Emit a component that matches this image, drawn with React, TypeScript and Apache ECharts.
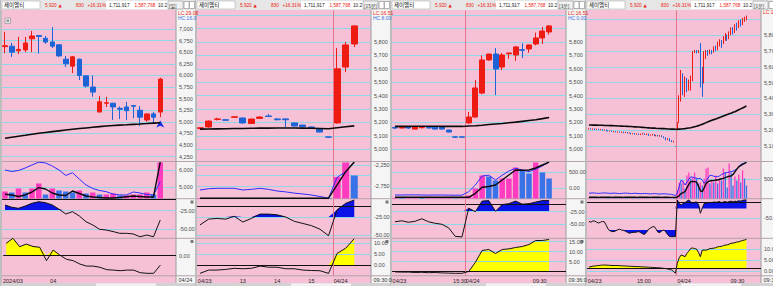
import React, { useEffect, useRef } from 'react';
import * as echarts from 'echarts';

// ================= DATA =================
// Panel 1 : daily  [open, close, low, high]
const p1Candles = [
  [6620, 6640, 6480, 6940], [6630, 6500, 6400, 6700], [6530, 6560, 6460, 6830], [6550, 6700, 6500, 6830],
  [6790, 6850, 6500, 6960], [6860, 6840, 6470, 6870], [6800, 6720, 6680, 6850], [6720, 6630, 6590, 7040],
  [6660, 6420, 6400, 6660], [6350, 6250, 6180, 6420], [6200, 6400, 6050, 6420], [6350, 6000, 5900, 6360],
  [5990, 5770, 5740, 5990], [5750, 5640, 5540, 6000], [5210, 5430, 5210, 5560], [5400, 5410, 5320, 5540],
  [5400, 5320, 5040, 5410], [5290, 5270, 5060, 5330], [5320, 5240, 5040, 5430], [5350, 5335, 5080, 5360],
  [5250, 5100, 4910, 5340], [5040, 5170, 5000, 5180], [5170, 5100, 4970, 5210], [5210, 5920, 5100, 5950],
];
const p1MA = [4644, 4666, 4688, 4709, 4731, 4752, 4770, 4788, 4805, 4822, 4839, 4854, 4868, 4882, 4896, 4910, 4919, 4928, 4936, 4945, 4953, 4962, 4972, 4981];
const p1Vol = [700, 600, 1000, 600, 1000, 1500, 400, 1000, 800, 700, 600, 800, 500, 600, 400, 400, 500, 300, 300, 400, 400, 600, 400, 3600];
const p1VolBlue = [6000, 5912, 5970, 6118, 6294, 6460, 6412, 6235, 6000, 5676, 5841, 5470, 5118, 4912, 4794, 4724, 4588, 4530, 4530, 4706, 4647, 4559, 4530, 5312];
const p1VolBlack = [4571, 4530, 4441, 4530, 4706, 4959, 4882, 4647, 4530, 4500, 4765, 4618, 4471, 4412, 4382, 4353, 4353, 4382, 4430, 4471, 4441, 4412, 4412, 6460];
const p1Ind1 = [-17.3, -20.4, -21.8, -18.7, -15, -12.9, -14.2, -17.3, -23, -29.4, -26.3, -32, -39.8, -44.2, -50, -51, -53, -55.4, -55.4, -56.3, -60, -57.7, -60, -37.5];
const p1Ind2 = [6.2, 8.7, 4.5, 5.8, 4.6, 4.2, -2.5, 2.8, 0.3, -1.8, -2.5, -4.2, -5.2, -5.2, -5.8, -7, -7.2, -7.5, -7.2, -7.2, -8.5, -8.8, -8.8, -4.7];
const p1PriceTicks = [4250, 4500, 4750, 5000, 5250, 5500, 5750, 6000, 6250, 6500, 6750, 7000];
const p1VolTicks = [5000, 6000];
const p1Ind1Ticks = [-50, -25];
const p1Ind2Ticks = [0];
const p1XLabels: [number, string][] = [[1.0, '2024/03'], [7, '04']];
const p1Signal = [23, 5030];

// Panel 2 : 15 min
const p2Candles = [
  [5155, 5160, 5150, 5165], [5166, 5210, 5160, 5215], [5222, 5226, 5215, 5235], [5220, 5216, 5212, 5224],
  [5238, 5242, 5236, 5248], [5233, 5196, 5190, 5236], [5192, 5225, 5188, 5228], [5230, 5240, 5228, 5248],
  [5248, 5244, 5240, 5262], [5226, 5220, 5215, 5230], [5226, 5220, 5165, 5230], [5196, 5173, 5170, 5198],
  [5180, 5168, 5164, 5182], [5166, 5160, 5156, 5168], [5150, 5128, 5125, 5152], [5092, 5090, 5086, 5094],
  [5196, 5600, 5190, 5755], [5613, 5778, 5575, 5800], [5785, 5920, 5762, 5925],
];
const p2MA = [5150, 5151, 5152, 5153, 5154, 5155, 5156, 5157, 5157, 5158, 5158, 5158, 5157, 5156, 5155, 5153, 5160, 5167, 5174];
const p2Vol = [50, 60, 40, 40, 50, 60, 50, 50, 40, 40, 50, 60, 40, 40, 60, 50, 2150, 3600, 2300];
const p2VolBlue = [-2845, -2815, -2805, -2805, -2805, -2845, -2830, -2805, -2830, -2870, -2890, -2920, -2940, -2964, -3000, -3040, -2543, -2410, -2180];
const p2VolBlack = [-3040, -3040, -3040, -3040, -3040, -3040, -3040, -3040, -3040, -3040, -3040, -3040, -3040, -3040, -3040, -3040, -2726, -2410, -2180];
const p2Ind1 = [-36, -28, -27, -28, -24, -32, -27, -21, -21, -22, -25, -31, -34, -37, -42, -51, -15, -6, -1.4];
const p2Ind2 = [-3.8, -2.3, -2.3, -2, -1.5, -1.7, -1.5, -0.5, -1, -1, -1.7, -1.7, -2.3, -2.5, -2.6, -3.8, 5.3, 7.6, 12];
const p2PriceTicks = [5000, 5100, 5200, 5300, 5400, 5500, 5600, 5700, 5800, 5900, 6000];
const p2PriceLabeled = [5000, 5100, 5200, 5300, 5400, 5500, 5600, 5700, 5800];
const p2VolTicks = [-2750, -2500, -2250];
const p2VolLabeled = [-2750, -2250];
const p2Ind1Ticks = [-50, -25];
const p2Ind2Ticks = [0, 5, 10];
const p2XLabels: [number, string][] = [[0.55, '04/23'], [5, '13'], [9, '14'], [13, '15'], [16.4, '04/24']];
const p2DayBreak = 15.5;

// Panel 3 : 3 min
const p3Candles = [
  [5162, 5158, 5150, 5166], [5158, 5164, 5155, 5168], [5164, 5158, 5152, 5166], [5150, 5166, 5148, 5168],
  [5160, 5163, 5155, 5168], [5162, 5158, 5155, 5165], [5166, 5150, 5148, 5168], [5166, 5150, 5145, 5168],
  [5143, 5128, 5125, 5145], [5092, 5090, 5088, 5094], [5092, 5090, 5088, 5094], [5196, 5240, 5190, 5278],
  [5240, 5457, 5235, 5516], [5419, 5666, 5410, 5700], [5666, 5710, 5660, 5712], [5710, 5598, 5404, 5755],
  [5613, 5703, 5590, 5718], [5712, 5718, 5675, 5720], [5703, 5763, 5660, 5770], [5742, 5738, 5680, 5790],
  [5748, 5778, 5720, 5780], [5785, 5830, 5775, 5870], [5830, 5882, 5785, 5912], [5875, 5920, 5855, 5925],
];
const p3MA = [5170, 5170, 5170, 5171, 5171, 5171, 5171, 5170, 5170, 5170, 5170, 5173, 5175, 5179, 5184, 5188, 5192, 5197, 5202, 5208, 5214, 5220, 5228, 5237];
const p3Vol = [60, 50, 60, 80, 50, 50, 60, 60, 90, 30, 30, 300, 1000, 2300, 2200, 1800, 2000, 2000, 3100, 2800, 2500, 3600, 2600, 2000];
const p3VolBlue = [-219, -219, -215, -215, -219, -222, -219, -219, -222, -225, -225, -115, 94, 375, 400, 250, 400, 530, 615, 560, 510, 590, 690, 810];
const p3VolBlack = [-290, -290, -290, -290, -290, -290, -290, -290, -290, -290, -290, -290, -166, 22, 47, 94, 250, 406, 562, 553, 562, 625, 719, 810];
const p3Ind1 = [-45, -43, -46, -44, -39, -45, -48, -50, -57, -74, -75, -18, -25, -4, -3, -24, -11, -9, -4, -10, -9, -6, -3, -3];
const p3Ind2 = [-0.2, -0.3, -0.3, -0.5, -0.4, -0.6, -0.5, -0.7, -0.8, -0.9, -0.9, 0, 4.6, 10.5, 11, 9, 11, 11.3, 12, 12.5, 13.5, 15.5, 15.5, 16];
const p3PriceTicks = [5000, 5100, 5200, 5300, 5400, 5500, 5600, 5700, 5800, 5900, 6000];
const p3PriceLabeled = [5000, 5100, 5200, 5300, 5400, 5500, 5600, 5700, 5800];
const p3VolTicks = [0, 500];
const p3Ind1Ticks = [-50, -25];
const p3Ind2Ticks = [5, 10, 15];
const p3XLabels: [number, string][] = [[0.67, '04/23'], [9.7, '15:30'], [11.6, '04/24'], [21.6, '09:30']];
const p3DayBreak = 10.5;

// Panel 4 : 1 min (04/23 then 04/24)
const p4CandlesDay1 = [
  [5208, 5210, 5204, 5212], [5210, 5206, 5203, 5212], [5206, 5208, 5202, 5210], [5208, 5204, 5200, 5210], [5204, 5206, 5201, 5208],
  [5206, 5203, 5200, 5208], [5203, 5205, 5199, 5207], [5205, 5200, 5197, 5206], [5200, 5202, 5196, 5204],
  [5202, 5196, 5193, 5203], [5196, 5194, 5190, 5198], [5194, 5196, 5191, 5198], [5196, 5190, 5188, 5197], [5190, 5192, 5187, 5194],
  [5192, 5188, 5185, 5193], [5188, 5190, 5184, 5192], [5190, 5186, 5183, 5191], [5186, 5188, 5182, 5190],
  [5188, 5184, 5180, 5190], [5184, 5186, 5181, 5188], [5186, 5180, 5178, 5187], [5180, 5182, 5177, 5184], [5182, 5176, 5173, 5183],
  [5176, 5180, 5174, 5181], [5180, 5174, 5171, 5181], [5174, 5177, 5170, 5178], [5177, 5172, 5169, 5178], [5172, 5175, 5168, 5177],
  [5175, 5178, 5172, 5182], [5178, 5172, 5170, 5179], [5172, 5176, 5168, 5178], [5176, 5166, 5163, 5177], [5166, 5170, 5164, 5172],
  [5170, 5172, 5166, 5175], [5172, 5165, 5162, 5173], [5165, 5168, 5160, 5170], [5168, 5164, 5160, 5169],
  [5164, 5166, 5158, 5168], [5166, 5158, 5155, 5167], [5158, 5152, 5148, 5160], [5152, 5140, 5135, 5155], [5140, 5146, 5136, 5148],
  [5146, 5132, 5128, 5148], [5132, 5128, 5124, 5136], [5128, 5130, 5122, 5132], [5096, 5095, 5093, 5097],
];
const p4CandlesDay2 = [
  [5200, 5245, 5198, 5250], [5250, 5390, 5245, 5420], [5390, 5540, 5380, 5580], [5540, 5450, 5420, 5560], [5450, 5520, 5410, 5540],
  [5520, 5460, 5440, 5530], [5460, 5500, 5450, 5520], [5455, 5535, 5450, 5545], [5515, 5695, 5510, 5700], [5695, 5705, 5688, 5707],
  [5705, 5690, 5685, 5707], [5690, 5702, 5688, 5706], [5700, 5560, 5470, 5750], [5560, 5500, 5410, 5600], [5500, 5660, 5495, 5700],
  [5660, 5700, 5650, 5707], [5700, 5690, 5670, 5707], [5690, 5705, 5680, 5710], [5705, 5695, 5680, 5707], [5695, 5720, 5690, 5730],
  [5720, 5712, 5700, 5735], [5712, 5745, 5705, 5760], [5745, 5765, 5730, 5775], [5765, 5750, 5720, 5770], [5750, 5780, 5745, 5795],
  [5780, 5800, 5765, 5815], [5800, 5785, 5765, 5805], [5785, 5815, 5775, 5825], [5815, 5840, 5800, 5850], [5840, 5825, 5805, 5852],
  [5825, 5860, 5815, 5870], [5860, 5850, 5830, 5880], [5850, 5880, 5845, 5895], [5880, 5872, 5855, 5900], [5872, 5900, 5865, 5910],
  [5900, 5912, 5885, 5918], [5905, 5920, 5895, 5925],
];
const p4MA = [
  5232, 5232, 5231, 5231, 5231, 5230, 5230, 5230, 5229, 5229, 5229, 5228, 5228, 5227, 5227, 5226,
  5226, 5225, 5224, 5224, 5223, 5222, 5222, 5221, 5220, 5219, 5219, 5218, 5217, 5216, 5215, 5214, 5213,
  5212, 5212, 5211, 5210, 5210, 5209, 5209, 5208, 5207, 5207, 5206, 5206, 5205,
  5205, 5206, 5207, 5208, 5209, 5211, 5213, 5215, 5218, 5221, 5224, 5228, 5232,
  5237, 5242, 5247, 5252, 5257, 5262, 5266, 5270, 5275,
  5280, 5284, 5289, 5294, 5298, 5303, 5307, 5312, 5316,
  5322, 5328, 5334, 5340, 5346, 5353,
];
const p4Vol = [
  40, 50, 30, 60, 40, 50, 30, 40, 60, 50, 40, 30, 50, 60, 40, 30, 50, 40, 60, 50, 40, 30, 50, 40, 60, 50, 30, 40, 50, 60,
  40, 50, 30, 40, 60, 50, 40, 50, 60, 80, 70, 90, 60, 70, 50, 120,
  800, 1600, 1500, 1800, 1000, 2300, 2600, 2000, 2100, 2600, 2000, 1500, 1600, 1300, 2000, 3000, 3100, 1500, 1800, 1600,
  2300, 1500, 2000, 1800, 3000, 2600, 1100, 3500, 2600, 1300, 2200, 1800, 2400, 1600, 2800, 2000, 1300,
];
const p4VolBlue = [
  90, 95, 100, 95, 90, 85, 90, 95, 100, 95, 90, 85, 90, 95, 90, 85, 80, 85, 90, 95, 90, 85, 80, 85, 90, 85, 80, 75, 80, 85,
  80, 75, 70, 75, 80, 75, 70, 65, 70, 75, 70, 65, 60, 55, 40, 20,
  100, 300, 480, 420, 332, 420, 500, 576, 560, 545, 530, 520, 529, 470, 382, 450, 540, 620, 610, 590,
  580, 576, 600, 640, 670, 690, 700, 715, 723, 740, 770, 800, 850, 940, 960, 980, 995,
];
const p4VolBlack = [
  -28, -30, -30, -29, -30, -31, -30, -30, -29, -30, -30, -30, -31, -30, -29, -30, -30, -30, -31, -30, -30, -29, -30, -30, -30, -31, -30, -30, -29, -30,
  -30, -30, -31, -30, -30, -29, -30, -30, -31, -30, -30, -30, -31, -32, -33, -34,
  -20, 20, 80, 110, 135, 250, 350, 430, 440, 430, 420, 300, 160, 135, 250, 380, 430, 450, 470, 460,
  480, 480, 500, 515, 529, 550, 570, 590, 597, 640, 720, 800, 870, 900, 940, 970, 995,
];
const p4Ind1 = [
  -58, -60, -57, -57, -60, -62, -60, -58, -59, -68, -78, -82, -84, -84, -82, -79, -78, -80, -81, -83,
  -86, -88, -87, -86, -86, -85, -84, -87, -90, -91, -85, -78, -75, -72, -71, -78, -86, -86, -82, -80,
  -85, -92, -97, -97, -97, -97,
  -3, -12, -16, -12, -10, -6, -3, -8, -11, -9, -8, -14, -37, -24, -12, -11, -10, -9, -10, -8,
  -9, -8, -7, -10, -8, -7, -9, -7, -6, -8, -6, -7, -5, -6, -4, -3, -3,
];
const p4Ind2 = [
  1.8, 2.0, 2.2, 2.3, 2.4, 2.5, 2.6, 2.7, 2.7, 2.7, 2.6, 2.6, 2.5, 2.5, 2.5, 2.5, 2.4, 2.4, 2.3, 2.3,
  2.2, 2.2, 2.1, 2.1, 2.0, 2.0, 2.0, 1.9, 1.9, 1.8, 1.8, 1.7, 1.7, 1.6, 1.6, 1.5, 1.5, 1.4, 1.3, 1.2,
  1.1, 0.9, 0.7, 0.5, -0.2, -1.0,
  3.5, 6, 7.3, 7, 6.5, 8, 9, 10.3, 10.5, 10.2, 10, 8.5, 6.5, 9.5, 9.5, 9.5, 9.8, 10.2, 10.3, 10.4,
  10.6, 11, 11.1, 11.2, 11.6, 11.8, 11.9, 12.2, 12.6, 12.7, 12.9, 13.2, 13.3, 13.6, 13.9, 14.1, 14.4,
];
const p4PriceTicks = [5100, 5200, 5300, 5400, 5500, 5600, 5700, 5800, 5900];
const p4PriceLabeled = [5100, 5200, 5300, 5400, 5500, 5600, 5700, 5800];
const p4VolTicks = [500];
const p4Ind1Ticks = [-50];
const p4Ind2Ticks = [0, 5, 10];
const p4XLabels: [number, string][] = [[2.9, '04/23'], [28.6, '15:00'], [49.5, '04/24'], [77.3, '09:30']];
const p4DayBreak = 45.5;

const lastPrice = 5920;

// ================= STYLE =================
const FONT = 'Liberation Sans';
const KR = 'Noto Sans CJK KR';
const PINK = '#f6c1d7';
const CYAN = '#8fd6e6';
const RED = '#ee1b12';
const BLUE = '#1e63d6';
const VPINK = '#ff3cbf';
const VBLUE = '#3a73e8';
const FILLB = '#0a12e8';
const YEL = '#ffff00';
const LBLUE = '#2b2bff';
const DAY = '#e2758a';
const AXT = '#4a4a4a';

const fmtInt = (v: number) => Math.round(v).toLocaleString('en-US');
const fmt2 = (v: number) => v.toFixed(2);

const PANELS = [
  {
    L: 0, slot: 6.75, off: 3, candleW: 5, volW: 5.5, unit: '일',
    candles: p1Candles, ma: p1MA, vol: p1Vol, volBlue: p1VolBlue, volBlack: p1VolBlack, ind1: p1Ind1, ind2: p1Ind2,
    priceRange: [4155, 7399], priceTicks: p1PriceTicks, priceLabeled: p1PriceTicks,
    volRange: [4323, 6470], volTicks: p1VolTicks, volLabeled: p1VolTicks, volFmt: fmtInt,
    i1Range: [-61.7, -9.27], i1Ticks: p1Ind1Ticks, lower: null,
    i2Range: [-9.9, 8.6], i2Ticks: p1Ind2Ticks, i2Base: 0,
    dayBreak: null, xLabels: p1XLabels, pct: null, lc: 'LC:29.08', hc: 'HC:16.0', stripDate: '04/24', signal: p1Signal, icon: true,
  },
  {
    L: 195, slot: 8.57, off: 3, candleW: 6.5, volW: 7, unit: '15분',
    candles: p2Candles, ma: p2MA, vol: p2Vol, volBlue: p2VolBlue, volBlack: p2VolBlack, ind1: p2Ind1, ind2: p2Ind2,
    priceRange: [4912, 6035], priceTicks: p2PriceTicks, priceLabeled: p2PriceLabeled,
    volRange: [-3047.6, -2178.6], volTicks: p2VolTicks, volLabeled: p2VolLabeled, volFmt: fmtInt,
    i1Range: [-54.2, 0], i1Ticks: p2Ind1Ticks, lower: null,
    i2Range: [-4.77, 12.05], i2Ticks: p2Ind2Ticks, i2Base: 0,
    dayBreak: p2DayBreak, xLabels: p2XLabels, pct: '2.42%', lc: 'LC:16.51', hc: 'HC:8.00', stripDate: '09:30:0', signal: null, icon: false,
  },
  {
    L: 390, slot: 6.7, off: 3, candleW: 5.5, volW: 5.5, unit: '3분',
    candles: p3Candles, ma: p3MA, vol: p3Vol, volBlue: p3VolBlue, volBlack: p3VolBlack, ind1: p3Ind1, ind2: p3Ind2,
    priceRange: [4912, 6035], priceTicks: p3PriceTicks, priceLabeled: p3PriceLabeled,
    volRange: [-328, 812.5], volTicks: p3VolTicks, volLabeled: p3VolTicks, volFmt: fmt2,
    i1Range: [-77.2, 0.2], i1Ticks: p3Ind1Ticks, lower: null,
    i2Range: [-2, 16.5], i2Ticks: p3Ind2Ticks, i2Base: 0,
    dayBreak: p3DayBreak, xLabels: p3XLabels, pct: '0.51%', lc: 'LC:16.51', hc: 'HC:0.00', stripDate: '09:36:0', signal: null, icon: false,
  },
  {
    L: 585, slot: 1.92, off: 2, candleW: 1, volW: 1.3, unit: '1분',
    candles: [...p4CandlesDay1, ...p4CandlesDay2], ma: p4MA, vol: p4Vol, volBlue: p4VolBlue, volBlack: p4VolBlack, ind1: p4Ind1, ind2: p4Ind2,
    priceRange: [5004, 5957], priceTicks: p4PriceTicks, priceLabeled: p4PriceLabeled,
    volRange: [-65, 1009], volTicks: p4VolTicks, volLabeled: p4VolTicks, volFmt: fmt2,
    i1Range: [-100.5, -0.5], i1Ticks: p4Ind1Ticks, lower: -80,
    i2Range: [-2.05, 14.8], i2Ticks: p4Ind2Ticks, i2Base: 1.2,
    dayBreak: p4DayBreak, xLabels: p4XLabels, pct: '0.51%', lc: 'LC:16.51', hc: null, stripDate: '09:36:00', signal: null, icon: false,
  },
];

// ================= BUILD =================
const rect = (x: number, y: number, w: number, h: number, fill: string, z = 0, stroke?: string) => ({
  type: 'rect', silent: true, z, shape: { x, y, width: w, height: h },
  style: stroke ? { fill, stroke, lineWidth: 0.6 } : { fill },
});
const hline = (x1: number, x2: number, y: number, color: string, z = 0.5) => ({
  type: 'line', silent: true, z, shape: { x1, y1: y, x2, y2: y }, style: { stroke: color, lineWidth: 1 },
});
const T = (x: number, y: number, text: string, fill: string, size = 4.7, family = FONT, align = 'left') => ({
  type: 'text', x, y, z: 50, silent: true,
  style: { text, fill, fontSize: size, fontFamily: family, align, verticalAlign: 'middle' },
});

function buildOption() {
  const grid: any[] = [], xAxis: any[] = [], yAxis: any[] = [], series: any[] = [], graphic: any[] = [];
  graphic.push(rect(0, 0, 773, 286, '#bdbdbd', -1));

  PANELS.forEach((p: any) => {
    const L = p.L;
    const plotLeft = L + 2, plotW = 174;
    const xMin = -p.off / p.slot, xMax = xMin + plotW / p.slot;
    const subs = [
      { top: 10.5, bot: 161, range: p.priceRange },
      { top: 162, bot: 198.5, range: p.volRange },
      { top: 199, bot: 238, range: p.i1Range },
      { top: 238.5, bot: 275.5, range: p.i2Range },
    ];
    const g = grid.length, y = yAxis.length;
    subs.forEach((s, j) => {
      grid.push({ left: plotLeft, top: s.top, width: plotW, height: s.bot - s.top, show: false });
      xAxis.push({
        type: 'value', gridIndex: g + j, min: xMin, max: xMax,
        axisLine: { show: false }, axisTick: { show: false }, splitLine: { show: false },
        axisLabel: j === 3 ? {
          show: true, customValues: p.xLabels.map((l: any) => l[0]), margin: 2,
          fontSize: 5.5, color: '#262626', fontFamily: FONT, align: 'center',
          formatter: (v: number) => { const f = p.xLabels.find((l: any) => Math.abs(l[0] - v) < 1e-6); return f ? f[1] : ''; },
        } : { show: false },
      });
      yAxis.push({
        type: 'value', gridIndex: g + j, min: s.range[0], max: s.range[1],
        axisLine: { show: false }, axisTick: { show: false }, splitLine: { show: false }, axisLabel: { show: false },
      });
    });
    const yb = yAxis.length;
    yAxis.push({ type: 'value', gridIndex: g + 1, min: 0, max: 3650, show: false, splitLine: { show: false } });

    const volUp = (i: number) => i === 0 || p.vol[i] >= p.vol[i - 1];
    const xy = (arr: number[]) => arr.map((v, i) => [i, v]);
    const dayItem = p.dayBreak == null ? [] : [{ xAxis: p.dayBreak, lineStyle: { color: DAY, width: 1, type: 'solid' }, label: { show: false } }];
    const black = (v: number) => ({ yAxis: v, lineStyle: { color: '#111', width: 1, type: 'solid' }, label: { show: false } });
    const ml = (ticks: number[], labeled: number[] | null, fmt: (v: number) => string, extra: any[]) => ({
      silent: true, symbol: ['none', 'none'], animation: false, precision: 6,
      lineStyle: { color: CYAN, width: 1, type: 'solid' },
      label: { position: 'end', distance: 3, fontSize: 5.5, lineHeight: 5.5, color: AXT, fontFamily: FONT },
      data: [
        ...ticks.map((v) => ({ yAxis: v, label: { show: labeled ? labeled.includes(v) : true, formatter: fmt(v) } })),
        ...extra,
      ],
    });
    const dummy = (j: number, markLine: any) => ({
      type: 'line', xAxisIndex: g + j, yAxisIndex: y + j, data: [[xMin, subs[j].range[0]]],
      symbol: 'none', lineStyle: { opacity: 0 }, silent: true, z: 1, markLine,
    });
    // threshold fill: a hidden axis shifted so that the threshold sits at 0, area fills to 0
    const fill = (j: number, thr: number, vals: number[], color: string, below: boolean) => {
      const ya = yAxis.length;
      yAxis.push({ type: 'value', gridIndex: g + j, min: subs[j].range[0] - thr, max: subs[j].range[1] - thr, show: false, splitLine: { show: false } });
      return {
        type: 'line', xAxisIndex: g + j, yAxisIndex: ya,
        data: vals.map((v, i) => [i, below ? Math.min(v - thr, 0) : Math.max(v - thr, 0)]),
        symbol: 'none', lineStyle: { opacity: 0 }, areaStyle: { color, opacity: 1 }, silent: true, z: 4,
      };
    };

    // ---- price ----
    series.push(dummy(0, ml(p.priceTicks, p.priceLabeled, fmtInt, dayItem)));
    const boxLabel: any = p.pct ? {
      formatter: '{e| }\n{a|' + fmtInt(lastPrice) + '}\n{b|' + p.pct + '}',
      rich: {
        e: { fontSize: 5, lineHeight: 5.5 },
        a: { backgroundColor: RED, color: '#fff', padding: [0.5, 2, 0, 1], fontSize: 5.5, lineHeight: 5.2, fontFamily: FONT },
        b: { color: RED, fontSize: 5.5, lineHeight: 5.5, fontFamily: FONT },
      },
      distance: 1,
    } : {
      formatter: fmtInt(lastPrice), backgroundColor: RED, color: '#fff', padding: [0.5, 2, 0, 1], lineHeight: 5, distance: 1, fontSize: 5.5, fontFamily: FONT,
    };
    const candle: any = {
      type: 'candlestick', xAxisIndex: g, yAxisIndex: y,
      data: p.candles.map((c: number[], i: number) => [i, c[0], c[1], c[2], c[3]]),
      encode: { x: 0, y: [1, 2, 3, 4] },
      barWidth: p.candleW, z: 10, silent: true,
      itemStyle: { color: RED, color0: BLUE, borderColor: RED, borderColor0: BLUE, borderWidth: 1 },
      markLine: {
        silent: true, symbol: ['none', 'none'], label: { position: 'end' },
        data: [{ yAxis: lastPrice, lineStyle: { opacity: 0 }, label: boxLabel }],
      },
    };
    if (p.signal) candle.markPoint = {
      symbol: 'arrow', symbolSize: [6, 7], itemStyle: { color: '#1530e6' }, label: { show: false }, silent: true,
      data: [{ coord: p.signal }],
    };
    series.push(candle);
    series.push({ type: 'line', xAxisIndex: g, yAxisIndex: y, data: xy(p.ma), symbol: 'none', lineStyle: { color: '#0a0a0a', width: 1.6 }, z: 11, silent: true });

    // ---- volume ----
    series.push(dummy(1, ml(p.volTicks, p.volLabeled, p.volFmt, dayItem)));
    const lastI = p.vol.length - 1;
    series.push({
      type: 'bar', xAxisIndex: g + 1, yAxisIndex: yb, barWidth: p.volW, z: 10, silent: true,
      data: p.vol.map((v: number, i: number) => ({ value: [i, v], itemStyle: { color: volUp(i) ? VPINK : VBLUE } })),
      markLine: {
        silent: true, symbol: ['none', 'none'],
        data: [{
          yAxis: p.vol[lastI], lineStyle: { opacity: 0 },
          label: { position: 'end', formatter: fmtInt(p.vol[lastI]), backgroundColor: volUp(lastI) ? VPINK : VBLUE, color: '#fff', padding: [0.5, 2, 0, 1], lineHeight: 5, distance: 1, fontSize: 5.5, fontFamily: FONT },
        }],
      },
    });
    series.push({ type: 'line', xAxisIndex: g + 1, yAxisIndex: y + 1, data: xy(p.volBlue), symbol: 'none', lineStyle: { color: LBLUE, width: 1 }, z: 11, silent: true });
    series.push({ type: 'line', xAxisIndex: g + 1, yAxisIndex: y + 1, data: xy(p.volBlack), symbol: 'none', lineStyle: { color: '#0a0a0a', width: 1.4 }, z: 12, silent: true });

    // ---- indicator 1 ----
    series.push(dummy(2, ml(p.i1Ticks, null, fmt2, [black(-10), ...dayItem])));
    series.push(fill(2, -25, p.ind1, FILLB, false));
    if (p.lower != null) series.push(fill(2, p.lower, p.ind1, FILLB, true));
    series.push({ type: 'line', xAxisIndex: g + 2, yAxisIndex: y + 2, data: xy(p.ind1), symbol: 'none', lineStyle: { color: '#111', width: 1 }, z: 10, silent: true });

    // ---- indicator 2 ----
    series.push(dummy(3, ml(p.i2Ticks, null, fmt2, [black(p.i2Base), ...dayItem])));
    series.push(fill(3, p.i2Base, p.ind2, YEL, false));
    series.push({ type: 'line', xAxisIndex: g + 3, yAxisIndex: y + 3, data: xy(p.ind2), symbol: 'none', lineStyle: { color: '#111', width: 1 }, z: 10, silent: true });

    // ---- decorations ----
    graphic.push(rect(L + 1, 0, 194, 10, '#e6e6e6', 0));
    graphic.push(rect(L + 2, 10, 174, 273, PINK, 0));
    graphic.push(rect(L + 176, 10, 19, 273, '#f5f5f5', 0));
    graphic.push({ type: 'line', silent: true, z: 0.5, shape: { x1: L + 176, y1: 10, x2: L + 176, y2: 283 }, style: { stroke: '#9c9c9c', lineWidth: 1 } });
    [161.5, 198.7, 238.3, 275.8].forEach((yy) => graphic.push(hline(L + 2, L + 195, yy, '#b3a2aa')));
    graphic.push(rect(L + 1, 283, 194, 3, '#d2d2d2', 0));
    graphic.push(rect(L + 96, 283.6, 60, 2.2, '#f6f6f6', 0.5));
    graphic.push(rect(L + 190.5, 200.5, 3, 3, '#7a7a7a', 1));
    graphic.push(rect(L + 190.5, 240, 3, 3, '#7a7a7a', 1));
    if (p.icon) {
      graphic.push(rect(L + 5, 18, 5.5, 5.5, '#e8e8e8', 1, '#8a8a8a'));
      graphic.push(rect(L + 6.5, 19.5, 2.5, 2.5, '#9a9a9a', 2));
    }
    // header
    graphic.push(rect(L + 2, 1, 38, 8, '#ffffff', 1, '#b0b0b0'));
    graphic.push(T(L + 4, 5.3, '제이엠티', '#111', 5.5, KR));
    graphic.push(T(L + 45, 5.3, '5,920', RED));
    graphic.push(T(L + 58.5, 5.3, '▲', RED, 4.2, 'DejaVu Sans'));
    graphic.push(T(L + 76, 5.3, '830', RED));
    graphic.push(T(L + 87.5, 5.3, '+16.31%', RED));
    graphic.push(rect(L + 106, 1, 62, 8, '#ffffff', 1));
    graphic.push(T(L + 109, 5.3, '1,711,917', '#222'));
    graphic.push(T(L + 134.5, 5.3, '1,587,768', RED));
    graphic.push(T(L + 158, 5.3, '10.2', '#222'));
    graphic.push(rect(L + 168, 1, 15, 8, '#f2f2f2', 1, '#999'));
    graphic.push(T(L + 169, 5.3, '[' + p.unit + ']', '#222', 4.8, KR));
    graphic.push(rect(L + 184, 1.5, 5, 7, '#ffffff', 1, '#888'));
    graphic.push(rect(L + 189.5, 1.5, 5, 7, '#ffffff', 1, '#888'));
    // strip texts
    graphic.push(T(L + 178, p.hc ? 12.8 : 11.8, p.lc, RED, 5));
    if (p.hc) graphic.push(T(L + 178, 17.6, p.hc, '#3b6fe0', 5));
    graphic.push(T(L + 178.5, 279.5, p.stripDate, '#333', 5.5));
  });

  return { animation: false, backgroundColor: '#ffffff', grid, xAxis, yAxis, series, graphic: { elements: graphic } };
}

export default function App() {
  const ref = useRef<HTMLDivElement>(null);
  useEffect(() => {
    const chart = echarts.init(ref.current as HTMLDivElement, null, { renderer: 'svg', width: 773, height: 286 });
    chart.setOption(buildOption() as any);
    return () => chart.dispose();
  }, []);
  return <div ref={ref} style={{ position: 'fixed', left: 0, top: 0, width: 773, height: 286 }} />;
}
